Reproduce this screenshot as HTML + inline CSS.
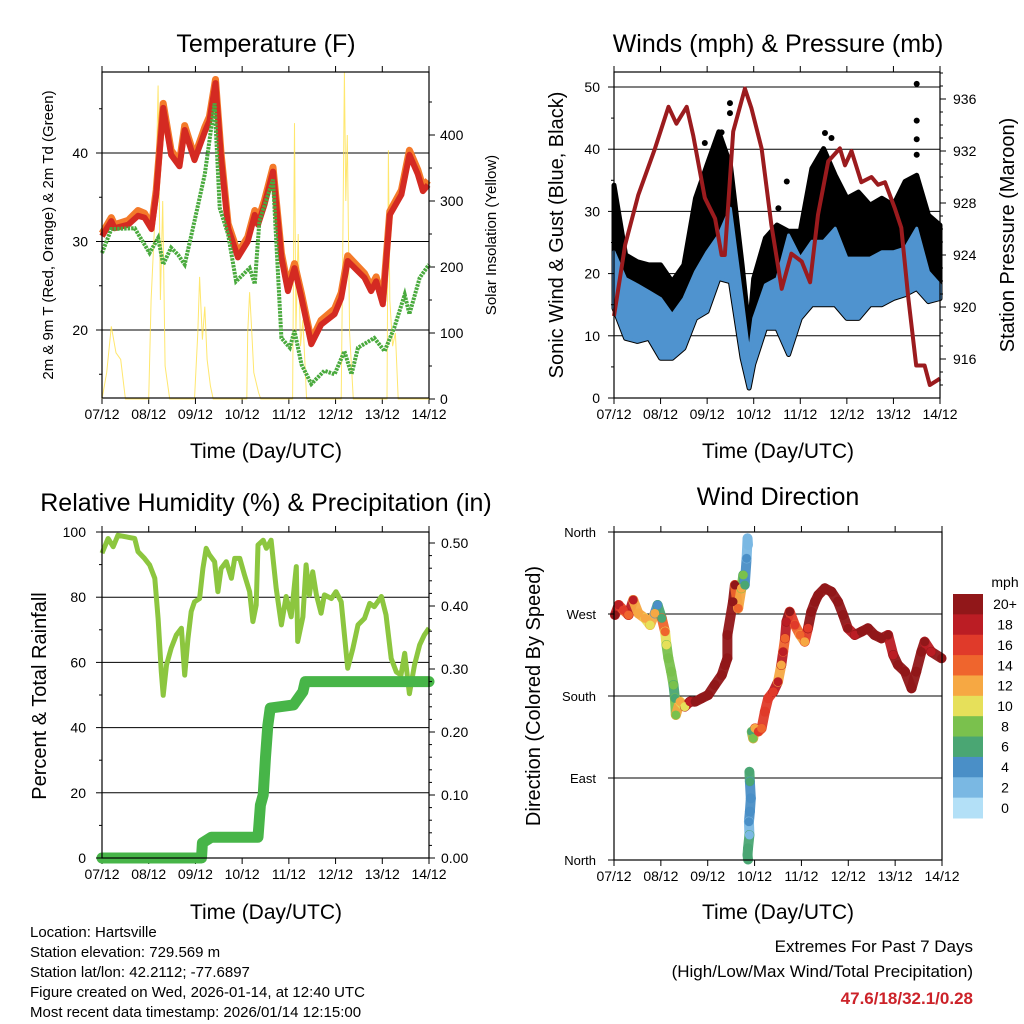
<!DOCTYPE html>
<html><head><meta charset="utf-8">
<style>
body{margin:0;background:#fff;}
svg{display:block;font-family:"Liberation Sans",sans-serif;}
</style></head>
<body>
<svg id="s" width="1024" height="1024" viewBox="0 0 1024 1024" xmlns="http://www.w3.org/2000/svg">
<g id="g"></g>
</svg>
<script>
// ---------- Data ----------
const dayLabels=["07/12","08/12","09/12","10/12","11/12","12/12","13/12","14/12"];
// Temperature (F)
const tempDays=[0,.2,.27,.56,.77,.91,1.06,1.16,1.31,1.48,1.66,1.77,1.98,2.2,2.3,2.43,2.55,2.7,2.91,3.12,3.27,3.34,3.48,3.66,3.84,3.98,4.12,4.27,4.48,4.69,4.98,5.12,5.26,5.62,5.76,5.87,6.01,6.16,6.41,6.58,6.76,6.87,6.98];
const tempRed=[30.6,32.3,31.5,31.9,32.9,32.7,31.4,35.3,45.1,39.8,38.5,42.6,39.2,42.4,43.6,47.9,39.4,31.5,28.2,30.0,33.0,31.9,34.2,37.9,28.2,24.4,27.0,23.6,18.4,20.6,21.8,23.6,27.8,25.9,24.4,25.5,22.9,33.0,35.3,39.8,37.6,35.7,36.4];
const tempOrange=[30.9,32.7,31.9,32.4,33.5,33.2,31.8,35.8,45.6,40.3,39.0,43.1,39.6,42.9,44.1,48.3,39.9,32.0,28.7,30.5,33.5,32.4,34.7,38.4,28.7,24.9,27.5,24.1,18.8,21.1,22.4,24.2,28.4,26.4,24.9,26.0,23.3,33.4,35.8,40.3,38.1,36.2,36.9];
const dewDays=[0,.2,.7,1.02,1.2,1.31,1.48,1.63,1.77,1.98,2.2,2.41,2.52,2.7,2.87,3.16,3.27,3.37,3.66,3.84,4.02,4.12,4.27,4.48,4.76,4.98,5.19,5.34,5.48,5.83,6.05,6.26,6.48,6.58,6.8,7.0];
const dewGreen=[28.7,31.4,31.5,28.7,30.4,27.4,29.3,28.5,27.4,32.3,37.6,45.6,33.8,30.8,25.5,27.0,25.2,32.3,37.0,19.1,18.0,19.9,16.1,13.9,15.4,15.0,17.6,15.0,18.0,19.1,17.6,20.3,24.0,21.8,25.9,27.4];
const solarDays=[0,.1,.2,.3,.4,.5,1.0,1.05,1.15,1.2,1.25,1.3,1.35,1.45,1.98,2.05,2.09,2.15,2.2,2.25,2.32,2.38,3.1,3.12,3.16,3.2,3.25,3.35,3.4,4.08,4.1,4.12,4.15,4.2,4.25,4.3,4.38,5.12,5.15,5.19,5.22,5.25,5.3,5.38,6.1,6.13,6.16,6.22,6.28,6.34,7];
const solarVals=[0,40,110,70,60,0,0,150,300,475,150,300,50,0,0,100,185,90,140,60,20,0,0,100,162,110,40,10,0,0,200,418,100,250,80,120,0,0,200,495,300,400,100,0,0,377,150,80,100,0,0];
// Winds & pressure
const windDays=[0,.25,.5,.75,1,1.25,1.5,1.75,2,2.25,2.5,2.75,2.9,3,3.25,3.5,3.75,4,4.25,4.5,4.75,5,5.25,5.5,5.75,6,6.25,6.5,6.75,7];
const sonicHi=[23.5,19.2,18.2,17.1,16.0,13.4,16.0,20.3,23.5,26.2,30.5,16.0,7.0,12.8,18.2,19.2,26.2,22.5,25.2,25.2,27.3,22.5,22.5,22.5,23.5,23.5,24.1,27.3,20.3,18.2];
const sonicLo=[14.4,9.6,9.1,9.6,6.4,6.4,8.0,12.8,13.9,19.2,18.7,6.4,1.6,5.4,11.2,11.2,7.0,12.8,15.0,15.0,15.0,12.8,12.8,15.0,15.0,16.0,16.6,17.6,15.5,16.0];
const gustHi=[34.2,23.0,21.9,21.4,21.4,18.7,21.4,32.1,37.5,42.8,37.5,21.4,10.7,19.2,25.7,27.8,26.8,26.8,36.9,40.1,35.8,32.1,33.1,31.0,32.1,31.0,34.8,35.8,29.4,27.8];
const gustOutDays=[6.5,6.5,6.5,6.5,2.49,2.49,2.31,1.95,4.53,4.67,3.71,3.53,3.49];
const gustOutVals=[50.5,44.6,41.6,39.1,47.4,45.8,42.7,41.0,42.6,41.8,34.8,30.5,26.8];
const presDays=[0,.24,.52,.88,1.17,1.34,1.56,1.7,1.95,2.17,2.31,2.38,2.56,2.81,2.95,3.17,3.38,3.6,3.81,4.03,4.21,4.38,4.6,4.85,4.96,5.1,5.31,5.53,5.67,5.82,6.03,6.17,6.32,6.49,6.67,6.78,6.96,7.0];
const presVals=[919.3,924.8,928.6,932.2,935.4,934.1,935.4,933.2,928.4,926.8,924,924,933.5,936.8,935.3,932.2,926.3,921.4,924.1,923.5,921.9,927.1,931.2,932.2,930.9,932,929.6,930,929.4,929.6,927.6,926.1,920.7,915.5,915.5,914,914.4,914.5];
// RH & precip
const rhDays=[0,.13,.24,.34,.7,.77,.91,1.02,1.13,1.2,1.27,1.31,1.38,1.48,1.59,1.7,1.77,1.84,1.91,1.98,2.09,2.16,2.23,2.3,2.41,2.48,2.55,2.66,2.77,2.84,2.95,3.05,3.16,3.23,3.3,3.34,3.45,3.52,3.62,3.73,3.84,3.94,4.05,4.16,4.19,4.3,4.37,4.44,4.51,4.59,4.69,4.76,4.91,5.01,5.12,5.26,5.37,5.48,5.62,5.73,5.83,5.98,6.08,6.19,6.3,6.4,6.48,6.58,6.69,6.8,6.9,7];
const rhVals=[93.5,98,95.5,99,98,94,91.9,89.9,85.8,73.5,57.1,49.9,59.2,64.3,68.4,70.5,56.1,67.4,75.6,78.6,79.6,88.8,95,93,90.9,81.7,88.8,90.9,85.8,91.9,91.9,86.8,81.7,72.5,77.6,96,97.5,95,97.5,82.7,71.5,80.2,74,89.4,66.4,74,89.9,80.7,87.8,80.7,75.1,80.7,79.6,81.7,78.6,58.2,64.3,71.5,73.5,78.1,77.1,80.2,74.6,61.2,57.1,56.1,62.8,50.4,59.2,65.4,68.4,70.5];
const rainDays=[0,2.13,2.15,2.34,3.34,3.39,3.45,3.5,3.55,3.6,4.1,4.3,4.35,7];
const rainVals=[0,0,0.024,0.033,0.033,0.084,0.10,0.16,0.21,0.238,0.243,0.264,0.28,0.28];
// Wind direction
const dirDays=[.02,.1,.2,.31,.41,.52,.66,.77,.87,.93,1.02,1.09,1.12,1.16,1.22,1.27,1.3,1.32,1.41,1.51,1.62,1.73,1.87,2.01,2.15,2.3,2.37,2.42,2.42,2.54,2.58,2.65,2.72,2.76,2.79,2.83,2.85,2.86,2.89,2.9,2.92,2.9,2.88,2.89,2.86,2.85,2.86,2.94,2.97,3.01,3.08,3.15,3.22,3.29,3.4,3.5,3.57,3.61,3.65,3.68,3.75,3.86,3.97,4.07,4.14,4.21,4.29,4.36,4.5,4.64,4.78,4.89,4.99,5.14,5.28,5.42,5.56,5.71,5.85,5.96,6.06,6.21,6.35,6.45,6.56,6.63,6.77,6.99];
const dirVals=[268.9,279.9,274.4,268.9,285.4,270.7,265.3,257.9,270.7,279.9,265.3,250.6,236,221.4,206.7,192,177.5,159.2,173.8,168.3,173.8,173.8,177.5,181.1,192,203,214,221.4,247,283.5,301.8,276.2,298.2,312.8,301.8,331,353,345.8,96.9,86,67.7,53.1,42.1,27.4,12.8,5.5,0.5,140.9,133.5,144.5,140.9,144.5,162.8,177.5,184.7,195.7,214,228.6,243.3,261.6,272.5,257.9,247,239.6,254.3,272.5,283.5,290.9,298.2,294.5,283.5,268.9,254.3,247,250.6,254.3,247,243.3,247,225,214,206.7,188.5,206.7,228.6,239.6,228.6,221.4];
const dirSpeed=[20,18,16,14,18,12,12,10,12,4,6,14,10,8,8,8,6,8,12,10,18,20,20,20,20,20,20,20,20,20,20,14,12,8,6,4,2,2,6,6,4,4,4,2,6,6,6,6,8,12,16,14,16,16,16,18,12,18,14,18,20,16,14,12,16,20,20,20,20,20,20,20,20,18,20,20,20,20,20,18,20,20,20,20,20,20,18,20];
const speedLabels=["20+","18","16","14","12","10","8","6","4","2","0"];
const speedColors=["#911719","#bb1d24","#e03a2a","#ef652d","#f6a843","#e6e05a","#7ac14d","#4aa673","#4a8fc7","#7ab8e3","#b3e0f7"];

// ---------- Helpers ----------
const NS="http://www.w3.org/2000/svg";
const root=document.getElementById('g');
function mk(tag,attrs,parent,text){const e=document.createElementNS(NS,tag);for(const k in attrs)e.setAttribute(k,attrs[k]);if(text!==undefined)e.textContent=text;(parent||root).appendChild(e);return e;}
function lin(d0,d1,r0,r1){return v=>r0+(v-d0)/(d1-d0)*(r1-r0);}
function pts(xs,ys,fx,fy){return xs.map((d,i)=>fx(d).toFixed(1)+","+fy(ys[i]).toFixed(1)).join(" ");}
function txt(x,y,s,size,anchor,parent,extra){const t=mk('text',Object.assign({x:x,y:y,'font-size':size,'text-anchor':anchor||'middle',fill:'#000'},extra||{}),parent,s);return t;}

function frame(name){
  const g=mk('g',{});
  
  
  return g;
}
function xAxis(g,x0,x1,y0,y1){
  const fx=lin(0,7,x0,x1);
  dayLabels.forEach((l,i)=>{
    const x=fx(i);
    mk('line',{x1:x,x2:x,y1:y1,y2:y1+6,stroke:'#000','stroke-width':1},g);
    mk('line',{x1:x,x2:x,y1:y0,y2:y0-6,stroke:'#000','stroke-width':1},g);
    const t=txt(x,y1+21,l,14,'middle',g);
    
    
  });
  return fx;
}
function hgrid(g,ys,x0,x1){ys.forEach(y=>mk('line',{x1:x0,x2:x1,y1:y,y2:y,stroke:'#000','stroke-width':1},g));}
function border(g,x0,x1,y0,y1){mk('rect',{x:x0,y:y0,width:x1-x0,height:y1-y0,fill:'none',stroke:'#000','stroke-width':1.2},g);}

// ---------- Panel 1: Temperature ----------
(function(){
  const x0=102,x1=429,y0=72,y1=398;
  const g=frame('temperature-panel');
  const fx=xAxis(g,x0,x1,y0,y1);
  const fy=lin(40,30,153,241.5);
  const fs=lin(0,100,399,333);
  hgrid(g,[20,30,40].map(fy),x0,x1);
  const sol=mk('polyline',{points:pts(solarDays,solarVals,fx,fs),fill:'none',stroke:'#ffe14a','stroke-width':1,opacity:0.8},g);
  
  
  const o=mk('polyline',{points:pts(tempDays,tempOrange,fx,fy),fill:'none',stroke:'#f47a2a','stroke-width':7,'stroke-linejoin':'round'},g);
  
  
  const r=mk('polyline',{points:pts(tempDays,tempRed,fx,fy),fill:'none',stroke:'#d42a22','stroke-width':6,'stroke-linejoin':'round'},g);
  
  
  const d=mk('polyline',{points:pts(dewDays,dewGreen,fx,fy),fill:'none',stroke:'#4aaa3e','stroke-width':4,'stroke-dasharray':'2.5 1'},g);
  
  
  border(g,x0,x1,y0,y1);
  [20,30,40].forEach(v=>{mk('line',{x1:x0-6,x2:x0,y1:fy(v),y2:fy(v),stroke:'#000'},g);txt(x0-14,fy(v)+5,String(v),14,'end',g);});
  [15,25,35,45].forEach(v=>mk('line',{x1:x0-3,x2:x0,y1:fy(v),y2:fy(v),stroke:'#000'},g));
  [0,100,200,300,400].forEach(v=>{mk('line',{x1:x1,x2:x1+6,y1:fs(v),y2:fs(v),stroke:'#000'},g);txt(x1+11,fs(v)+5,String(v),14,'start',g);});
  [50,150,250,350,450].forEach(v=>mk('line',{x1:x1,x2:x1+3,y1:fs(v),y2:fs(v),stroke:'#000'},g));
  const t=txt(266,52,'Temperature (F)',25,'middle',g);
  const xt=txt(266,458,'Time (Day/UTC)',21,'middle',g);
  const yl=txt(0,0,'2m & 9m T (Red, Orange) & 2m Td (Green)',15,'middle',g,{transform:'translate(53,235) rotate(-90)'});
  const yr=txt(0,0,'Solar Insolation (Yellow)',15,'middle',g,{transform:'translate(496,235) rotate(-90)'});
})();

// ---------- Panel 2: Winds & Pressure ----------
(function(){
  const x0=614,x1=940,y0=72,y1=398;
  const g=frame('winds-pressure-panel');
  const fx=xAxis(g,x0,x1,y0,y1);
  const fy=lin(0,10,398,335.8);
  const fp=lin(936,932,99,151);
  hgrid(g,[10,20,30,40,50].map(fy),x0,x1);
  const gp=pts(windDays,gustHi,fx,fy)+" "+pts(windDays.slice().reverse(),sonicLo.slice().reverse(),fx,fy);
  const gb=mk('polygon',{points:gp,fill:'#000',stroke:'#000','stroke-width':5,'stroke-linejoin':'round'},g);
  
  
  gustOutDays.forEach((d,i)=>{const c=mk('circle',{cx:fx(d),cy:fy(gustOutVals[i]),r:3,fill:'#000'},g);
    
    });
  const sp=pts(windDays,sonicHi,fx,fy)+" "+pts(windDays.slice().reverse(),sonicLo.slice().reverse(),fx,fy);
  const sb=mk('polygon',{points:sp,fill:'#4f93cf',stroke:'#4f93cf','stroke-width':3,'stroke-linejoin':'round'},g);
  
  
  const pl=mk('polyline',{points:pts(presDays,presVals,fx,fp),fill:'none',stroke:'#9b1b1e','stroke-width':4,'stroke-linejoin':'round'},g);
  
  
  border(g,x0,x1,y0,y1);
  [0,10,20,30,40,50].forEach(v=>{mk('line',{x1:x0-6,x2:x0,y1:fy(v),y2:fy(v),stroke:'#000'},g);txt(x0-14,fy(v)+5,String(v),14,'end',g);});
  [5,15,25,35,45].forEach(v=>mk('line',{x1:x0-3,x2:x0,y1:fy(v),y2:fy(v),stroke:'#000'},g));
  [916,920,924,928,932,936].forEach(v=>{mk('line',{x1:x1,x2:x1+6,y1:fp(v),y2:fp(v),stroke:'#000'},g);txt(x1+13,fp(v)+5,String(v),14,'start',g);});
  [914,915,917,918,919,921,922,923,925,926,927,929,930,931,933,934,935,937,938].forEach(v=>mk('line',{x1:x1,x2:x1+3,y1:fp(v),y2:fp(v),stroke:'#000'},g));
  const t=txt(778,52,'Winds (mph) & Pressure (mb)',25,'middle',g);
  const xt=txt(778,458,'Time (Day/UTC)',21,'middle',g);
  const yl=txt(0,0,'Sonic Wind & Gust (Blue, Black)',20,'middle',g,{transform:'translate(563,235) rotate(-90)'});
  const yr=txt(0,0,'Station Pressure (Maroon)',20,'middle',g,{transform:'translate(1014,235) rotate(-90)'});
})();

// ---------- Panel 3: RH & Precip ----------
(function(){
  const x0=102,x1=429,y0=532,y1=858;
  const g=frame('humidity-precip-panel');
  const fx=xAxis(g,x0,x1,y0,y1);
  const fy=lin(0,100,858,532);
  const fp=lin(0,0.1,858,795);
  hgrid(g,[20,40,60,80].map(fy),x0,x1);
  const rh=mk('polyline',{points:pts(rhDays,rhVals,fx,fy),fill:'none',stroke:'#8cc63f','stroke-width':5,'stroke-linejoin':'round'},g);
  
  
  const pr=mk('polyline',{points:pts(rainDays,rainVals,fx,fp),fill:'none',stroke:'#47b548','stroke-width':11,'stroke-linejoin':'round','stroke-linecap':'round'},g);
  
  
  border(g,x0,x1,y0,y1);
  [0,20,40,60,80,100].forEach(v=>{mk('line',{x1:x0-6,x2:x0,y1:fy(v),y2:fy(v),stroke:'#000'},g);txt(x0-16,fy(v)+5,String(v),14,'end',g);});
  [10,30,50,70,90].forEach(v=>mk('line',{x1:x0-3,x2:x0,y1:fy(v),y2:fy(v),stroke:'#000'},g));
  [0,0.1,0.2,0.3,0.4,0.5].forEach(v=>{mk('line',{x1:x1,x2:x1+6,y1:fp(v),y2:fp(v),stroke:'#000'},g);txt(x1+12,fp(v)+5,v.toFixed(2),14,'start',g);});
  [0.02,0.04,0.06,0.08,0.12,0.14,0.16,0.18,0.22,0.24,0.26,0.28,0.32,0.34,0.36,0.38,0.42,0.44,0.46,0.48].forEach(v=>mk('line',{x1:x1,x2:x1+3,y1:fp(v),y2:fp(v),stroke:'#000'},g));
  const t=txt(266,511,'Relative Humidity (%) & Precipitation (in)',25,'middle',g);
  const xt=txt(266,919,'Time (Day/UTC)',21,'middle',g);
  const yl=txt(0,0,'Percent & Total Rainfall',20,'middle',g,{transform:'translate(46,696) rotate(-90)'});
})();

// ---------- Panel 4: Wind Direction ----------
(function(){
  const x0=614,x1=942,y0=532,y1=860;
  const g=frame('wind-direction-panel');
  const fx=xAxis(g,x0,x1,y0,y1);
  const fy=lin(0,360,860,532);
  hgrid(g,[90,180,270].map(fy),x0,x1);
  function col(s){let i=Math.round(s/2);if(i>10)i=10;if(i<0)i=0;return speedColors[10-i];}
  for(let i=1;i<dirDays.length;i++){
    if(Math.abs(dirVals[i]-dirVals[i-1])<40 && Math.abs(dirDays[i]-dirDays[i-1])<0.3){
      const l=mk('line',{x1:fx(dirDays[i-1]),y1:fy(dirVals[i-1]),x2:fx(dirDays[i]),y2:fy(dirVals[i]),stroke:col(dirSpeed[i]),'stroke-width':10,'stroke-linecap':'round',opacity:0.95},g);
      
      
    }
  }
  dirDays.forEach((d,i)=>{
    const c=mk('circle',{cx:fx(d),cy:fy(dirVals[i]),r:4.5,fill:col(dirSpeed[i])},g);
    
    
  });
  border(g,x0,x1,y0,y1);
  const names=["North","East","South","West","North"];
  [0,90,180,270,360].forEach((v,i)=>{mk('line',{x1:x0-6,x2:x0,y1:fy(v),y2:fy(v),stroke:'#000'},g);txt(x0-18,fy(v)+5,names[i],13,'end',g);});
  const t=txt(778,505,'Wind Direction',25,'middle',g);
  const xt=txt(778,919,'Time (Day/UTC)',21,'middle',g);
  const yl=txt(0,0,'Direction (Colored By Speed)',20,'middle',g,{transform:'translate(540,696) rotate(-90)'});
  // colorbar
  const cb=mk('g',{},g);
  
  
  const bh=(818-594)/speedLabels.length;
  speedLabels.forEach((l,i)=>{
    const y=594+i*bh;
    const r=mk('rect',{x:953,y:y,width:30,height:bh+0.5,fill:speedColors[i]},cb);
    
    
    txt(1005,y+bh/2+5,l,14,'middle',cb);
  });
  txt(1005,587,'mph',14,'middle',cb);
})();

// ---------- Footer ----------
(function(){
  const g=mk('g',{});
  
  
  const lines=["Location: Hartsville","Station elevation: 729.569 m","Station lat/lon: 42.2112; -77.6897","Figure created on Wed, 2026-01-14, at 12:40 UTC","Most recent data timestamp: 2026/01/14 12:15:00"];
  lines.forEach((l,i)=>txt(30,937+i*20,l,15,'start',g));
  const e=mk('g',{});
  
  
  txt(973,952,'Extremes For Past 7 Days',17,'end',e);
  txt(973,977,'(High/Low/Max Wind/Total Precipitation)',17,'end',e);
  txt(973,1004,'47.6/18/32.1/0.28',17,'end',e,{fill:'#cc2229','font-weight':'bold'});
})();
</script>
</body></html>
